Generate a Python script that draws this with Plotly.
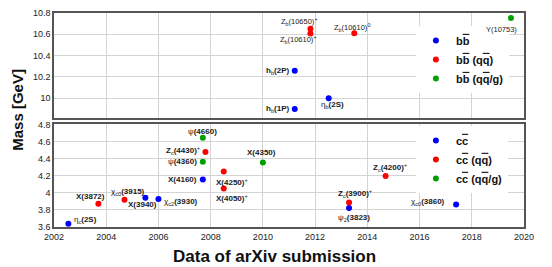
import plotly.graph_objects as go
from plotly.subplots import make_subplots

# ---------------- data ----------------
# bottomonium sector (top panel)
bb_year = [2011.22, 2011.22, 2012.52]
bb_mass = [10.259, 9.899, 9.999]
bb_label = ["<b>h</b><sub>b</sub><b>(2P)</b>", "<b>h</b><sub>b</sub><b>(1P)</b>", "η<sub>b</sub><b>(2S)</b>"]

bbqq_year = [2011.82, 2011.82, 2013.5]
bbqq_mass = [10.652, 10.608, 10.609]
bbqq_label = ["Z<sub>b</sub>(10650)<sup>+</sup>", "Z<sub>b</sub>(10610)<sup>+</sup>", "Z<sub>b</sub>(10610)<sup>0</sup>"]

bbg_year = [2019.5]
bbg_mass = [10.753]
bbg_label = ["Υ(10753)"]

# charmonium sector (bottom panel)
cc_year = [2002.55, 2005.5, 2006.0, 2007.7, 2013.3, 2017.4]
cc_mass = [3.637, 3.942, 3.927, 4.156, 3.823, 3.862]
cc_label = ["η<sub>c</sub><b>(2S)</b>", "<b>X(3940)</b>", "χ<sub>c2</sub><b>(3930)</b>",
            "<b>X(4160)</b>", "ψ<sub>2</sub><b>(3823)</b>", "χ<sub>c0</sub><b>(3860)</b>"]

ccqq_year = [2003.7, 2004.7, 2007.8, 2008.5, 2008.5, 2013.3, 2014.7]
ccqq_mass = [3.872, 3.918, 4.478, 4.248, 4.051, 3.888, 4.196]
ccqq_label = ["<b>X(3872)</b>", "χ<sub>c0</sub><b>(3915)</b>", "<b>Z</b><sub>c</sub><b>(4430)</b><sup>+</sup>",
              "<b>X(4250)</b><sup>+</sup>", "<b>X(4050)</b><sup>+</sup>",
              "<b>Z</b><sub>c</sub><b>(3900)</b><sup>+</sup>", "<b>Z</b><sub>c</sub><b>(4200)</b><sup>+</sup>"]

ccg_year = [2007.7, 2007.7, 2010.0]
ccg_mass = [4.645, 4.364, 4.355]
ccg_label = ["ψ<b>(4660)</b>", "ψ<b>(4360)</b>", "<b>X(4350)</b>"]

x_ticks = [2002, 2004, 2006, 2008, 2010, 2012, 2014, 2016, 2018, 2020]
top_ticks = [10, 10.2, 10.4, 10.6, 10.8]
bot_ticks = [3.6, 3.8, 4, 4.2, 4.4, 4.6, 4.8]

# ---------------- label placement (style: anchor, xshift, yshift, size) ----------------
bb_pos = [("right", -4, 0, 8), ("right", -4, 0, 8), ("center", 4, -7, 8)]
bbqq_pos = [("center", -11, 7, 7.5), ("center", -12, -6, 7.5), ("center", -2, 6, 7.5)]
bbg_pos = [("center", -9, -11, 7.5)]
cc_pos = [("left", 4, 4, 8), ("center", -3, -7, 8), ("left", 4, -3, 8),
          ("right", -4, 0, 8), ("center", 5, -10, 8), ("right", -9, 3, 8)]
ccqq_pos = [("center", -8, 7, 8), ("center", 3, 8, 8), ("right", -3, 1, 8),
            ("center", 8, -10, 8), ("center", 8, -10, 8), ("center", 6, 9, 8), ("center", 4, 9, 8)]
ccg_pos = [("center", 0, 6, 8), ("right", -4, 0, 8), ("center", -1, 10, 8)]

BLUE, RED, GREEN = "#0000ff", "#ff0000", "#00a000"
FONT = "Liberation Sans, Arial, Helvetica, sans-serif"


def bar(s):
    """anti-quark: overlined letter"""
    return '<span style="text-decoration:overline">' + s + "</span>"


fig = make_subplots(rows=2, cols=1, shared_xaxes=True, vertical_spacing=0.028,
                    row_heights=[0.507, 0.493])

series = [
    (1, bb_year, bb_mass, bb_label, bb_pos, BLUE, "b" + bar("b"), "legend"),
    (1, bbqq_year, bbqq_mass, bbqq_label, bbqq_pos, RED, "b" + bar("b") + " (q" + bar("q") + ")", "legend"),
    (1, bbg_year, bbg_mass, bbg_label, bbg_pos, GREEN, "b" + bar("b") + " (q" + bar("q") + "/g)", "legend"),
    (2, cc_year, cc_mass, cc_label, cc_pos, BLUE, "c" + bar("c"), "legend2"),
    (2, ccqq_year, ccqq_mass, ccqq_label, ccqq_pos, RED, "c" + bar("c") + " (q" + bar("q") + ")", "legend2"),
    (2, ccg_year, ccg_mass, ccg_label, ccg_pos, GREEN, "c" + bar("c") + " (q" + bar("q") + "/g)", "legend2"),
]

for row, xs, ys, labels, pos, col, name, leg in series:
    fig.add_trace(go.Scatter(x=xs, y=ys, mode="markers", name="<b>" + name + "</b>",
                             marker=dict(color=col, size=6, line=dict(width=0)),
                             legend=leg, hoverinfo="skip"), row=row, col=1)
    xref = "x" if row == 1 else "x2"
    yref = "y" if row == 1 else "y2"
    for xv, yv, lab, (anc, dx, dy, sz) in zip(xs, ys, labels, pos):
        fig.add_annotation(x=xv, y=yv, xref=xref, yref=yref, text=lab, showarrow=False,
                           xanchor=anc, yanchor="middle", xshift=dx, yshift=dy,
                           font=dict(family=FONT, size=sz, color="#1a1a1a"))

axis_common = dict(showline=True, mirror=True, linecolor="#555555", linewidth=1.5,
                   showgrid=True, gridcolor="#d4d4d4", gridwidth=1, zeroline=False,
                   ticks="", tickfont=dict(family=FONT, size=9, color="#222222"),
                   ticklabeloverflow="allow")

fig.update_xaxes(range=[2002, 2020], tickvals=x_ticks, **axis_common)
fig.update_xaxes(showticklabels=False, row=1, col=1)
fig.update_yaxes(range=[9.81, 10.8], tickvals=top_ticks, ticktext=["10", "10.2", "10.4", "10.6", "10.8"],
                 row=1, col=1, **axis_common)
fig.update_yaxes(range=[3.6, 4.8], tickvals=bot_ticks, ticktext=["3.6", "3.8", "4", "4.2", "4.4", "4.6", "4.8"],
                 row=2, col=1, **axis_common)

legend_common = dict(bgcolor="white", borderwidth=0, font=dict(family=FONT, size=11, color="#111111"),
                     xanchor="left", yanchor="top", itemwidth=30, tracegroupgap=0)
# page body has an 8px default margin, so the figure is sized/offset to compensate
fig.update_layout(
    width=544, height=259,
    margin=dict(l=46, r=28, t=5, b=40, autoexpand=False),
    paper_bgcolor="white", plot_bgcolor="white",
    showlegend=True,
    legend=dict(x=0.77, y=0.939, **legend_common),
    legend2=dict(x=0.77, y=0.472, **legend_common),
)

fig.add_annotation(text="<b>Mass [GeV]</b>", xref="paper", yref="paper", x=-0.077, y=0.547,
                   textangle=-90, showarrow=False, xanchor="center", yanchor="middle",
                   font=dict(family=FONT, size=15, color="#111111"))
fig.add_annotation(text="<b>Data of arXiv submission</b>", xref="paper", yref="paper", x=0.47, y=-0.139,
                   showarrow=False, xanchor="center", yanchor="middle",
                   font=dict(family=FONT, size=17, color="#111111"))

fig.write_html("out.html")
